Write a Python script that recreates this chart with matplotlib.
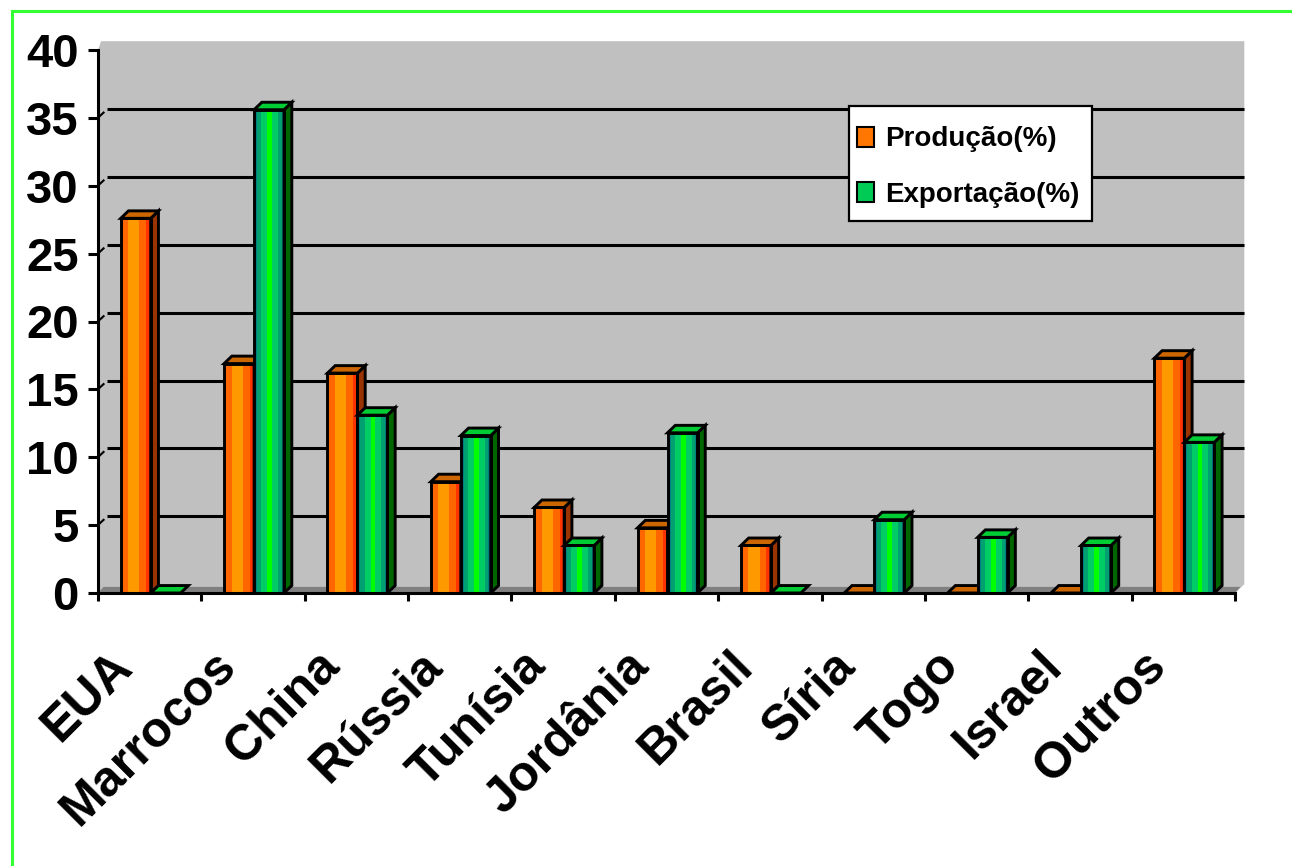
import numpy as np
import matplotlib.pyplot as plt
from matplotlib.patches import Polygon, Rectangle, Patch
from matplotlib.lines import Line2D

# dados (% do total mundial)
paises = ['EUA', 'Marrocos', 'China', 'Rússia', 'Tunísia', 'Jordânia',
          'Brasil', 'Síria', 'Togo', 'Israel', 'Outros']
producao = [27.6, 16.9, 16.2, 8.2, 6.3, 4.8, 3.5, 0.0, 0.0, 0.0, 17.3]
exportacao = [0.0, 35.6, 13.1, 11.6, 3.5, 11.8, 0.0, 5.4, 4.1, 3.5, 11.1]
y_ticks = [0, 5, 10, 15, 20, 25, 30, 35, 40]

# faixas de cor da face frontal (fração da largura, cor)
faixas_laranja = [(0.06, '#FF3300'), (0.19, '#FF6600'), (0.37, '#FF9900'),
                  (0.23, '#FF6600'), (0.15, '#FF3300')]
faixas_verde = [(0.10, '#008080'), (0.14, '#00A070'), (0.20, '#00CC66'),
                (0.16, '#00FF00'), (0.20, '#00CC66'), (0.12, '#00A070'),
                (0.08, '#008080')]

plt.rcParams['font.family'] = ['Liberation Sans', 'DejaVu Sans']
plt.rcParams['font.weight'] = 'bold'

W, H = 1292, 866
fig = plt.figure(figsize=(W / 100, H / 100), dpi=100)
ax = fig.add_axes([98 / W, 1 - 593 / H, (1235 - 98) / W, (593 - 50) / H])
ax.patch.set_visible(False)

x0, x1 = -0.5, len(paises) - 0.5
ax.set_xlim(x0, x1)
ax.set_ylim(0, 40)

# profundidade da parede do fundo e das barras
dx, dy = 0.09, 0.65
bdx, bdy = 0.075, 0.55
lw = 2.1

# parede do fundo (cinza)
parede = Polygon([(x0, 0), (x0, 40), (x0 + 0.03, 40 + dy), (x1 + dx, 40 + dy),
                  (x1 + dx, dy), (x1, 0)], closed=True, facecolor='#C0C0C0',
                 edgecolor='none', clip_on=False, zorder=0)
ax.add_patch(parede)
# piso
piso = Polygon([(x0, 0), (x1, 0), (x1 + dx * 0.6, 0.45), (x0 + dx * 0.6, 0.45)],
               closed=True, facecolor='#808080', edgecolor='none',
               clip_on=False, zorder=0.5)
ax.add_patch(piso)

# linhas de grade na parede
for v in y_ticks[1:-1]:
    ax.plot([x0 + dx, x1 + dx], [v + dy, v + dy], color='black', lw=2.2,
            solid_capstyle='butt', clip_on=False, zorder=1)
    ax.plot([x0 + 0.02, x0 + dx * 0.6], [v + 0.15, v + dy * 0.6], color='black',
            lw=1.5, clip_on=False, zorder=1)


def barra_3d(x, w, h, faixas, cor_lado, cor_topo, z):
    if h > 0:
        pos = x
        for frac, cor in faixas:
            ax.add_patch(Rectangle((pos, 0), w * frac, h, facecolor=cor,
                                   edgecolor='none', zorder=z))
            pos += w * frac
        ax.add_patch(Rectangle((x, 0), w, h, facecolor='none',
                               edgecolor='black', lw=lw, zorder=z + 0.2))
        lado = Polygon([(x + w, 0), (x + w + bdx, bdy), (x + w + bdx, h + bdy),
                        (x + w, h)], closed=True, facecolor=cor_lado,
                       edgecolor='black', lw=lw, zorder=z + 0.1)
        ax.add_patch(lado)
    topo = Polygon([(x, h), (x + bdx, h + bdy), (x + w + bdx, h + bdy),
                    (x + w, h)], closed=True, facecolor=cor_topo,
                   edgecolor='black', lw=lw, zorder=z + 0.1)
    ax.add_patch(topo)


largura = 0.29
for i in range(len(paises)):
    barra_3d(i - 0.28, largura, producao[i], faixas_laranja, '#993300',
             '#CC6600', 3)
    barra_3d(i + 0.01, largura, exportacao[i], faixas_verde, '#006600',
             '#00CC33', 4)

# eixos
for lado in ['top', 'right']:
    ax.spines[lado].set_visible(False)
for lado in ['left', 'bottom']:
    ax.spines[lado].set_linewidth(2.2)
    ax.spines[lado].set_zorder(6)

ax.set_yticks(y_ticks)
ax.set_yticklabels([str(t) for t in y_ticks], fontsize=34, fontweight='bold')
ax.tick_params(axis='y', length=7, width=2.2, pad=7)
ax.set_xticks(np.arange(x0, x1 + 0.01, 1.0))
ax.set_xticklabels([])
ax.tick_params(axis='x', length=6, width=2.2)

# rótulos das categorias
for i, nome in enumerate(paises):
    ax.text(i - 0.15, -0.138, nome, transform=ax.get_xaxis_transform(),
            rotation=45, rotation_mode='anchor', ha='right', va='baseline',
            fontsize=36, fontweight='bold')

# legenda: caixa desenhada à parte, itens sem moldura
fig.add_artist(Rectangle((849 / W, 1 - 221 / H), (1092 - 849) / W, (221 - 106) / H,
                         transform=fig.transFigure, facecolor='white',
                         edgecolor='black', lw=1.6, zorder=5))
itens = [Patch(facecolor='#FF7700', edgecolor='black', lw=1.5, label='Produção(%)'),
         Patch(facecolor='#00CC55', edgecolor='black', lw=1.5, label='Exportação(%)')]
leg = fig.legend(handles=itens, loc='center left',
                 bbox_to_anchor=(857 / W, 1 - 167 / H),
                 fontsize=20, frameon=False, handlelength=0.6, handleheight=0.75,
                 handletextpad=0.4, labelspacing=1.05, borderpad=0,
                 borderaxespad=0)
leg.set_zorder(6)
for t in leg.get_texts():
    t.set_fontweight('bold')

# moldura verde
fig.add_artist(Line2D([12 / W, 1.0], [1 - 11 / H, 1 - 11 / H],
                      color='#33FF33', lw=2.2, transform=fig.transFigure))
fig.add_artist(Line2D([12 / W, 12 / W], [1 - 11 / H, 0.0],
                      color='#33FF33', lw=2.2, transform=fig.transFigure))

fig.savefig('out.png', dpi=100, facecolor='white')
